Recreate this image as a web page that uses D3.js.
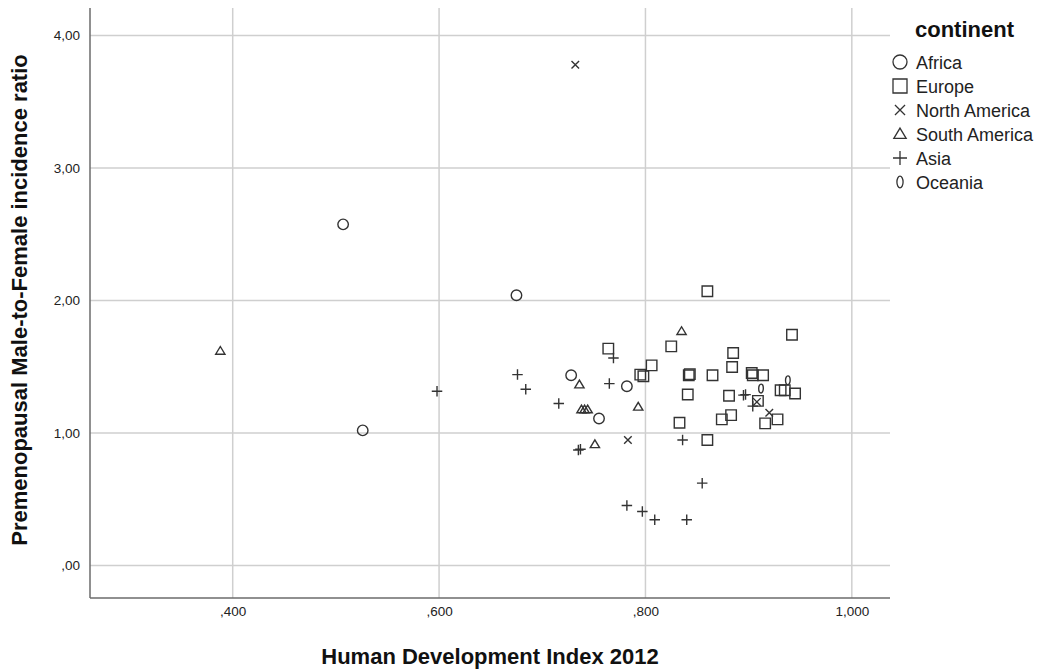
<!DOCTYPE html>
<html>
<head>
<meta charset="utf-8">
<script src="https://cdn.jsdelivr.net/npm/d3@7/dist/d3.min.js"></script>
<style>
  html, body { margin: 0; padding: 0; background: #fff; }
  svg { display: block; font-family: "Liberation Sans", Arial, sans-serif; }
</style>
</head>
<body>
<svg id="chart" width="1042" height="670"></svg>
<script>
// Human Development Index 2012 vs premenopausal male-to-female incidence ratio, by continent
const continents = ["Africa", "Europe", "North America", "South America", "Asia", "Oceania"];

const africa = [
  [0.507, 2.575], [0.526, 1.02], [0.675, 2.04], [0.728, 1.436], [0.755, 1.11], [0.782, 1.353]
];
const europe = [
  [0.764, 1.637], [0.795, 1.441], [0.798, 1.429], [0.806, 1.511], [0.825, 1.654], [0.833, 1.078],
  [0.841, 1.291], [0.842, 1.436], [0.843, 1.445], [0.860, 0.947], [0.860, 2.07], [0.865, 1.436],
  [0.874, 1.103], [0.883, 1.135], [0.881, 1.281], [0.884, 1.499], [0.885, 1.604], [0.903, 1.453],
  [0.904, 1.436], [0.909, 1.243], [0.914, 1.436], [0.916, 1.073], [0.928, 1.103], [0.931, 1.323],
  [0.935, 1.323], [0.942, 1.742], [0.945, 1.298]
];
const northAmerica = [
  [0.732, 3.78], [0.783, 0.947], [0.908, 1.235], [0.920, 1.153]
];
const southAmerica = [
  [0.388, 1.62], [0.736, 1.366], [0.738, 1.178], [0.741, 1.178], [0.744, 1.178], [0.751, 0.915],
  [0.793, 1.198], [0.835, 1.769]
];
const asia = [
  [0.598, 1.316], [0.676, 1.441], [0.684, 1.331], [0.716, 1.223], [0.735, 0.872], [0.737, 0.878],
  [0.765, 1.373], [0.769, 1.566], [0.782, 0.453], [0.797, 0.408], [0.809, 0.346], [0.836, 0.947],
  [0.840, 0.346], [0.855, 0.622], [0.895, 1.286], [0.897, 1.29], [0.904, 1.203]
];
const oceania = [
  [0.912, 1.336], [0.938, 1.398]
];

const xTicks = [0.4, 0.6, 0.8, 1.0];
const yTicks = [0, 1, 2, 3, 4];

const seriesData = [africa, europe, northAmerica, southAmerica, asia, oceania];

const svg = d3.select("#chart");
const plot = { left: 90, right: 890, top: 8, bottom: 598 };

const x = d3.scaleLinear().domain([0.2617, 1.037]).range([plot.left, plot.right]);
const y = d3.scaleLinear().domain([-0.245, 4.208]).range([plot.bottom, plot.top]);

const gridColor = "#cfcfcf";
const axisColor = "#6b6b6b";
const markColor = "#333";

// gridlines
svg.append("g").selectAll("line.gx").data(xTicks).join("line")
  .attr("x1", d => x(d)).attr("x2", d => x(d))
  .attr("y1", plot.top).attr("y2", plot.bottom)
  .attr("stroke", gridColor).attr("stroke-width", 1.5);
svg.append("g").selectAll("line.gy").data(yTicks).join("line")
  .attr("x1", plot.left).attr("x2", plot.right)
  .attr("y1", d => y(d)).attr("y2", d => y(d))
  .attr("stroke", gridColor).attr("stroke-width", 1.5);

// axes
const fmtY = d => d3.format(".2f")(d).replace(/^0\./, ".").replace(".", ",");
const fmtX = d => d3.format(".3f")(d).replace(/^0\./, ".").replace(".", ",");

const yAxis = svg.append("g").attr("transform", `translate(${plot.left},0)`)
  .call(d3.axisLeft(y).tickValues(yTicks).tickSize(0).tickPadding(10).tickFormat(fmtY));
const xAxis = svg.append("g").attr("transform", `translate(0,${plot.bottom})`)
  .call(d3.axisBottom(x).tickValues(xTicks).tickSize(0).tickPadding(8).tickFormat(fmtX));

[xAxis, yAxis].forEach(g => {
  g.select(".domain").remove();
  g.selectAll("text").attr("fill", "#222").style("font-size", "13.5px")
    .style("font-family", "'Liberation Sans', Arial, sans-serif");
});
svg.append("line").attr("x1", plot.left).attr("x2", plot.left)
  .attr("y1", plot.top).attr("y2", plot.bottom)
  .attr("stroke", axisColor).attr("stroke-width", 1.5);
svg.append("line").attr("x1", plot.left).attr("x2", plot.right)
  .attr("y1", plot.bottom).attr("y2", plot.bottom)
  .attr("stroke", axisColor).attr("stroke-width", 1.5);

// axis titles
svg.append("text")
  .attr("x", 490).attr("y", 664)
  .attr("text-anchor", "middle")
  .style("font-size", "22px").style("font-weight", "bold").attr("fill", "#111")
  .text("Human Development Index 2012");
svg.append("text")
  .attr("transform", "translate(27,300) rotate(-90)")
  .attr("text-anchor", "middle")
  .style("font-size", "22px").style("font-weight", "bold").attr("fill", "#111")
  .text("Premenopausal Male-to-Female incidence ratio");

// marker shapes, drawn as paths centred on the origin
function markerPath(kind, s) {
  const p = d3.path();
  switch (kind) {
    case "Africa": p.arc(0, 0, s * 0.5, 0, 2 * Math.PI); break;
    case "Europe": p.rect(-s * 0.5, -s * 0.5, s, s); break;
    case "North America": {
      const h = s * 0.36;
      p.moveTo(-h, -h); p.lineTo(h, h); p.moveTo(-h, h); p.lineTo(h, -h); break;
    }
    case "South America": {
      const h = s * 0.42;
      p.moveTo(0, -h); p.lineTo(h * 1.05, h * 0.75); p.lineTo(-h * 1.05, h * 0.75); p.closePath(); break;
    }
    case "Asia": {
      const h = s * 0.5;
      p.moveTo(-h, 0); p.lineTo(h, 0); p.moveTo(0, -h); p.lineTo(0, h); break;
    }
    case "Oceania": {
      const rx = s * 0.22, ry = s * 0.42;
      const k = 0.5523;
      p.moveTo(0, -ry);
      p.bezierCurveTo(rx * k, -ry, rx, -ry * k, rx, 0);
      p.bezierCurveTo(rx, ry * k, rx * k, ry, 0, ry);
      p.bezierCurveTo(-rx * k, ry, -rx, ry * k, -rx, 0);
      p.bezierCurveTo(-rx, -ry * k, -rx * k, -ry, 0, -ry);
      p.closePath(); break;
    }
  }
  return p.toString();
}

// points
const points = svg.append("g");
seriesData.forEach((data, i) => {
  const kind = continents[i];
  points.selectAll(null).data(data).join("path")
    .attr("transform", d => `translate(${x(d[0])},${y(d[1])})`)
    .attr("d", markerPath(kind, 10.5))
    .attr("fill", "none").attr("stroke", markColor).attr("stroke-width", 1.4);
});

// legend
const legend = svg.append("g");
legend.append("text").attr("x", 915).attr("y", 37)
  .style("font-size", "22px").style("font-weight", "bold").attr("fill", "#111")
  .text("continent");
continents.forEach((c, i) => {
  const cy = 62 + i * 24;
  legend.append("path")
    .attr("transform", `translate(900,${cy})`)
    .attr("d", markerPath(c, 14))
    .attr("fill", "none").attr("stroke", markColor).attr("stroke-width", 1.3);
  legend.append("text").attr("x", 916).attr("y", cy + 6.5)
    .style("font-size", "18px").attr("fill", "#222")
    .text(c);
});
</script>
</body>
</html>
